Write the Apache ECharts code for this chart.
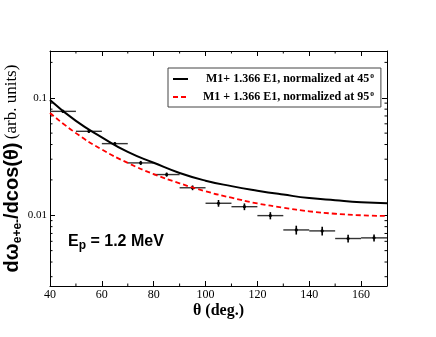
<!DOCTYPE html>
<html>
<head>
<meta charset="utf-8">
<script src="https://cdn.jsdelivr.net/npm/echarts@6/dist/echarts.min.js"></script>
<style>
  html, body { margin: 0; padding: 0; background: #fff; }
  #chart { width: 436px; height: 337px; }
</style>
</head>
<body>
<div id="chart"></div>
<script>
// measured points (theta bins of 10 deg)
const angles = [45, 55, 65, 75, 85, 95, 105, 115, 125, 135, 145, 155, 165]
const angleErr = [5, 5, 5, 5, 5, 5, 5, 5, 5, 5, 5, 5, 5]
const yields = [0.0766, 0.0518, 0.0407, 0.0279, 0.0222, 0.01714, 0.01265, 0.01183, 0.00993, 0.0075, 0.00736, 0.00634, 0.00642]
const yieldErr = [0.0023, 0.0015, 0.0012, 0.0011, 0.0009, 0.0008, 0.00083, 0.00078, 0.0007, 0.00065, 0.00062, 0.00049, 0.00045]

// theory curves
const curveAngles = [40, 50, 60, 70, 80, 90, 100, 110, 120, 130, 140, 150, 160, 170]
const norm45 = [0.0958, 0.0635, 0.0461, 0.0346, 0.0280, 0.0229, 0.0197, 0.0177, 0.0162, 0.0150, 0.0140, 0.0134, 0.0129, 0.01265]
const norm95 = [0.0741, 0.0500, 0.0363, 0.0279, 0.0224, 0.0187, 0.0160, 0.0141, 0.0126, 0.0116, 0.0108, 0.0103, 0.0100, 0.00986]

const legendNames = ['M1+ 1.366 E1, normalized at 45', 'M1 + 1.366 E1, normalized at 95']

const xMinorTicks = [50, 70, 90, 110, 130, 150]
const yMinorTicks = [0.003, 0.004, 0.005, 0.006, 0.007, 0.008, 0.009,
  0.02, 0.03, 0.04, 0.05, 0.06, 0.07, 0.08, 0.09, 0.2]

const serif = '"Liberation Serif", "DejaVu Serif", serif'
const sans = '"Liberation Sans", Arial, sans-serif'

const chart = echarts.init(document.getElementById('chart'))

const xBase = {
  type: 'value', min: 40, max: 170, interval: 20,
  axisLine: { lineStyle: { color: '#000', width: 1 } },
  axisTick: { inside: true, length: 5, lineStyle: { color: '#000' } },
  splitLine: { show: false }
}
const yBase = {
  type: 'log', logBase: 10, min: 0.0025, max: 0.25,
  axisLine: { show: true, lineStyle: { color: '#000', width: 1 } },
  axisTick: { inside: true, length: 5, lineStyle: { color: '#000' } },
  splitLine: { show: false }
}

chart.setOption({
  animation: false,
  grid: { left: 50, top: 51, width: 337, height: 235, outerBoundsMode: 'none', containLabel: false },
  legend: {
    data: legendNames,
    orient: 'vertical',
    left: 168, top: 68,
    padding: [4, 7, 4, 4],
    itemGap: 5,
    itemWidth: 15,
    itemHeight: 12,
    borderColor: '#444',
    borderWidth: 1,
    backgroundColor: '#fff',
    itemStyle: { opacity: 0 },
    // right-align the two labels like the original box
    formatter: name => (name === legendNames[0] ? '{t1|' : '{t2|') + name + '}{o|o}',
    textStyle: {
      rich: {
        t1: { fontFamily: serif, fontWeight: 'bold', fontSize: 12, color: '#000', padding: [0, 0, 0, 13] },
        t2: { fontFamily: serif, fontWeight: 'bold', fontSize: 12, color: '#000', padding: [0, 0, 0, 10] },
        o: { fontFamily: serif, fontWeight: 'bold', fontSize: 7.5, color: '#000', verticalAlign: 'top', padding: [0, 0, 6, 1] }
      }
    }
  },
  graphic: [{
    type: 'text', left: 68, top: 234,
    style: {
      text: '{e|E}{p|p}{e| = 1.2 MeV}',
      rich: {
        e: { fontFamily: sans, fontWeight: 'bold', fontSize: 16, color: '#000', lineHeight: 20 },
        p: { fontFamily: sans, fontWeight: 'bold', fontSize: 12, color: '#000', verticalAlign: 'bottom', padding: [8, 0, 0, 0] }
      }
    }
  }],
  xAxis: [
    Object.assign({}, xBase, {
      position: 'bottom',
      name: 'θ (deg.)', nameLocation: 'middle', nameGap: 17, nameMoveOverlap: false,
      nameTextStyle: { fontFamily: serif, fontWeight: 'bold', fontSize: 16, color: '#000' },
      axisLabel: { fontFamily: serif, fontSize: 12, color: '#000', margin: 3, showMaxLabel: false }
    }),
    Object.assign({}, xBase, { position: 'top', axisLabel: { show: false } })
  ],
  yAxis: [
    Object.assign({}, yBase, {
      position: 'left',
      name: '{b|dω}{s|e+e-}{b|/dcos(θ)} {r|(arb. units)}',
      nameLocation: 'middle', nameRotate: 90, nameGap: 26, nameMoveOverlap: false,
      nameTextStyle: {
        rich: {
          b: { fontFamily: sans, fontWeight: 'bold', fontSize: 20, color: '#000', lineHeight: 24 },
          s: { fontFamily: sans, fontWeight: 'bold', fontSize: 12, color: '#000', verticalAlign: 'bottom', padding: [10, 0, 0, 0] },
          r: { fontFamily: serif, fontSize: 17, color: '#000', lineHeight: 24 }
        }
      },
      axisLabel: { fontFamily: serif, fontSize: 11, color: '#000', margin: 3, showMinLabel: false, showMaxLabel: false }
    }),
    Object.assign({}, yBase, { position: 'right', axisLabel: { show: false } })
  ],
  series: [
    {
      name: legendNames[0],
      type: 'line', smooth: true, symbol: 'none',
      data: curveAngles.map((a, i) => [a, norm45[i]]),
      lineStyle: { color: '#000', width: 2 },
      itemStyle: { color: '#000' }
    },
    {
      name: legendNames[1],
      type: 'line', smooth: true, symbol: 'none',
      data: curveAngles.map((a, i) => [a, norm95[i]]),
      lineStyle: { color: '#ff0000', width: 1.8, type: [5, 3] },
      itemStyle: { color: '#ff0000' }
    },
    {
      name: 'data',
      type: 'custom',
      data: angles.map((a, i) => [a, yields[i], angleErr[i], yieldErr[i]]),
      renderItem: (params, api) => {
        const x = api.value(0), y = api.value(1), dx = api.value(2), dy = api.value(3)
        const l = api.coord([x - dx, y]), r = api.coord([x + dx, y])
        const t = api.coord([x, y + dy]), b = api.coord([x, y - dy])
        const c = api.coord([x, y])
        return {
          type: 'group',
          children: [
            { type: 'line', shape: { x1: l[0], y1: l[1], x2: r[0], y2: r[1] }, style: { stroke: '#333', lineWidth: 1.4 } },
            { type: 'line', shape: { x1: t[0], y1: t[1], x2: b[0], y2: b[1] }, style: { stroke: '#000', lineWidth: 1.6 } },
            { type: 'circle', shape: { cx: c[0], cy: c[1], r: 1.6 }, style: { fill: '#000' } }
          ]
        }
      },
      z: 3
    },
    {
      name: 'yMinor',
      type: 'custom',
      data: yMinorTicks.map(v => [40, v]),
      renderItem: (params, api) => {
        const cs = params.coordSys
        const p = api.coord([40, api.value(1)])
        return {
          type: 'group',
          children: [
            { type: 'line', shape: { x1: cs.x, y1: p[1], x2: cs.x + 2.5, y2: p[1] }, style: { stroke: '#000', lineWidth: 1 } },
            { type: 'line', shape: { x1: cs.x + cs.width - 2.5, y1: p[1], x2: cs.x + cs.width, y2: p[1] }, style: { stroke: '#000', lineWidth: 1 } }
          ]
        }
      },
      silent: true
    },
    {
      name: 'xMinor',
      type: 'custom',
      data: xMinorTicks.map(v => [v, 0.01]),
      renderItem: (params, api) => {
        const cs = params.coordSys
        const p = api.coord([api.value(0), 0.01])
        return {
          type: 'group',
          children: [
            { type: 'line', shape: { x1: p[0], y1: cs.y + cs.height, x2: p[0], y2: cs.y + cs.height - 2.5 }, style: { stroke: '#000', lineWidth: 1 } },
            { type: 'line', shape: { x1: p[0], y1: cs.y, x2: p[0], y2: cs.y + 2.5 }, style: { stroke: '#000', lineWidth: 1 } }
          ]
        }
      },
      silent: true
    }
  ]
})

window.addEventListener('resize', () => chart.resize())
</script>
</body>
</html>
